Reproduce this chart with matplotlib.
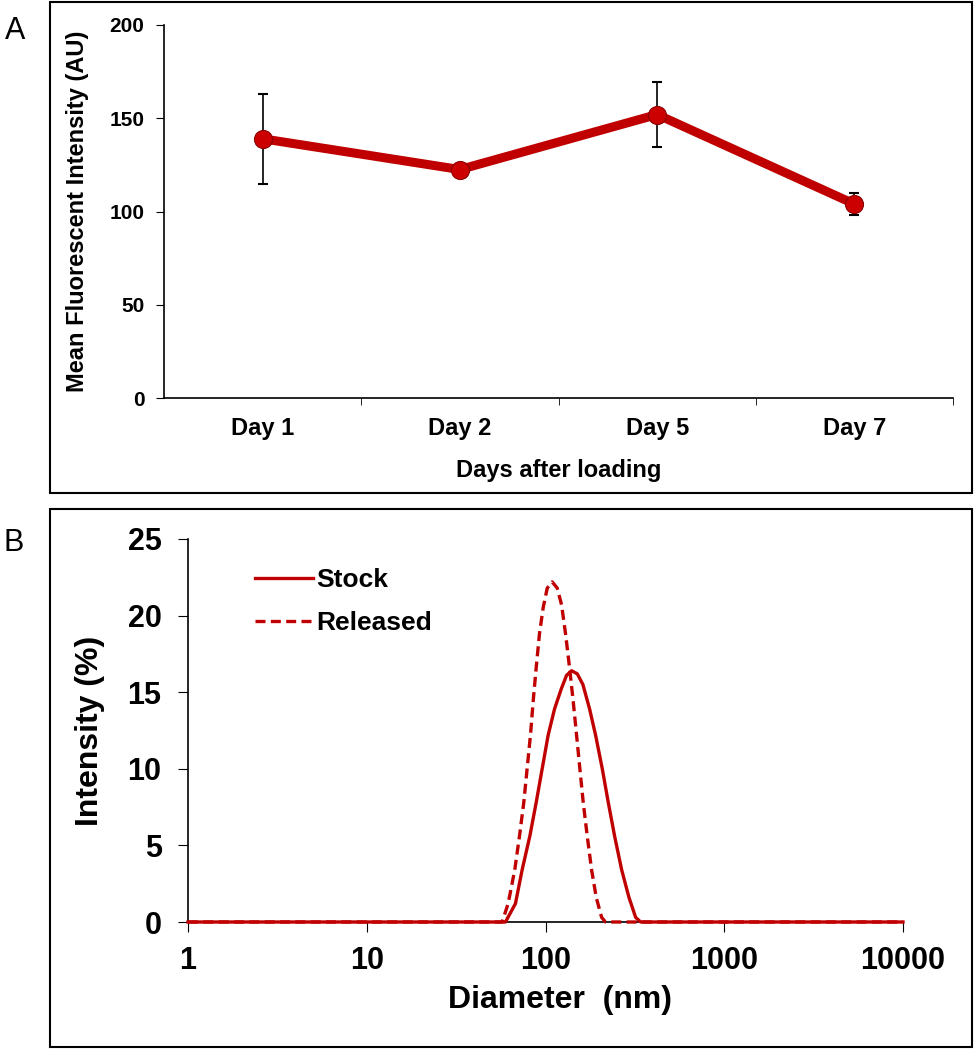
import matplotlib
matplotlib.use("Agg")
import matplotlib.pyplot as plt
from matplotlib.patches import Rectangle
from matplotlib.ticker import FixedLocator, NullFormatter

plt.rcParams["font.family"] = ["Liberation Sans", "DejaVu Sans"]
plt.rcParams["font.weight"] = "bold"
plt.rcParams["axes.labelweight"] = "bold"

# panel A data
days = ["Day 1", "Day 2", "Day 5", "Day 7"]
mfi = [139, 122.5, 152, 104]
mfi_err = [24, 2, 17.5, 5.8]

# panel B data (size distribution by intensity)
stock_d = [1, 59.7, 67.9, 74.0, 81.7, 88.7, 95.8, 103.5, 112.3, 122.4, 131.1, 139.9,
           150.6, 161.9, 176.5, 190.6, 207.8, 224.5, 243.6, 266.8, 293.1, 319.4, 340.6, 10000]
stock_i = [0, 0, 1.2, 3.4, 5.6, 7.8, 10.0, 12.2, 13.9, 15.2, 16.1, 16.4,
           16.2, 15.5, 13.9, 12.2, 10.0, 7.8, 5.6, 3.4, 1.6, 0.3, 0, 0]
rel_d = [1, 57.2, 61.8, 67.3, 71.5, 75.6, 78.9, 82.4, 85.3, 88.7, 92.5, 97.0, 102.3,
         109.0, 116.3, 123.0, 129.5, 136.3, 142.9, 149.2, 155.7, 162.6, 171.2, 181.1,
         192.3, 206.1, 216.8, 10000]
rel_i = [0, 0, 1.2, 3.4, 5.6, 7.8, 10.0, 12.2, 14.4, 16.6, 18.8, 20.5, 21.8,
         22.2, 21.8, 20.7, 18.8, 16.6, 14.4, 12.2, 10.0, 7.8, 5.6, 3.4,
         1.6, 0.3, 0, 0]

red = "#C00000"
W, H = 980, 1050
fig = plt.figure(figsize=(9.8, 10.5), dpi=100)

def fx(px):
    return px / W

def fy(py):
    return 1 - py / H

# frames and panel letters
fig.add_artist(Rectangle((fx(50), fy(493)), fx(922), 491 / H, fill=False, lw=1.5, ec="black"))
fig.add_artist(Rectangle((fx(50), fy(1047)), fx(922), 538 / H, fill=False, lw=1.5, ec="black"))
fig.text(fx(15), fy(31), "A", fontsize=22, fontweight="normal", ha="center", va="center")
fig.text(fx(14), fy(543), "B", fontsize=22, fontweight="normal", ha="center", va="center")

# ---- panel A
axA = fig.add_axes([fx(164), fy(398), fx(953 - 164), (398 - 25) / H])
x = list(range(len(days)))
axA.errorbar(x, mfi, yerr=mfi_err, fmt="none", ecolor="black", elinewidth=1.2,
             capsize=3.5, capthick=1.5, zorder=1)
axA.plot(x, mfi, color=red, lw=6.5, zorder=2, solid_capstyle="round")
axA.plot(x, mfi, "o", ms=13, mfc="#CC0000", mec="#8B0000", mew=0.8, zorder=3)
axA.set_xlim(-0.5, 3.5)
axA.set_ylim(0, 200)
axA.set_yticks([0, 50, 100, 150, 200])
axA.set_xticks(x)
axA.set_xticklabels(days)
axA.xaxis.set_minor_locator(FixedLocator([0.5, 1.5, 2.5, 3.5]))
axA.tick_params(axis="x", which="major", length=0, pad=14, labelsize=17)
axA.tick_params(axis="x", which="minor", length=5, direction="out")
axA.tick_params(axis="y", length=6, direction="out", labelsize=15, pad=8)
for s in ["top", "right"]:
    axA.spines[s].set_visible(False)
for s in ["left", "bottom"]:
    axA.spines[s].set_linewidth(1.2)
axA.set_xlabel("Days after loading", fontsize=17, labelpad=13)
axA.set_ylabel("Mean Fluorescent Intensity (AU)", fontsize=17, labelpad=15)

# ---- panel B
axB = fig.add_axes([fx(188), fy(922), fx(903 - 188), (922 - 539) / H])
axB.plot(stock_d, stock_i, color=red, lw=2.4, label="Stock", clip_on=False, zorder=3)
axB.plot(rel_d, rel_i, color=red, lw=2.4, ls=(0, (3, 1.6)), label="Released",
         clip_on=False, zorder=3)
axB.set_xscale("log")
axB.set_xlim(1, 10000)
axB.set_ylim(0, 25)
axB.set_xticks([1, 10, 100, 1000, 10000])
axB.set_xticklabels(["1", "10", "100", "1000", "10000"])
axB.xaxis.set_minor_formatter(NullFormatter())
axB.tick_params(axis="x", which="minor", length=0)
axB.set_yticks([0, 5, 10, 15, 20, 25])
axB.tick_params(axis="both", which="major", length=7, direction="out", labelsize=22)
axB.tick_params(axis="x", pad=10)
axB.tick_params(axis="y", pad=12)
for s in ["top", "right"]:
    axB.spines[s].set_visible(False)
for s in ["left", "bottom"]:
    axB.spines[s].set_linewidth(1.2)
axB.set_xlabel("Diameter  (nm)", fontsize=23)
axB.xaxis.set_label_coords(0.52, -0.165)
axB.set_ylabel("Intensity (%)", fontsize=23, labelpad=16)
axB.legend(loc="upper left", bbox_to_anchor=(0.06, 0.985), frameon=False, fontsize=19,
           handlelength=2.2, handletextpad=0.12, labelspacing=0.7)

fig.savefig("out.png", dpi=100)
